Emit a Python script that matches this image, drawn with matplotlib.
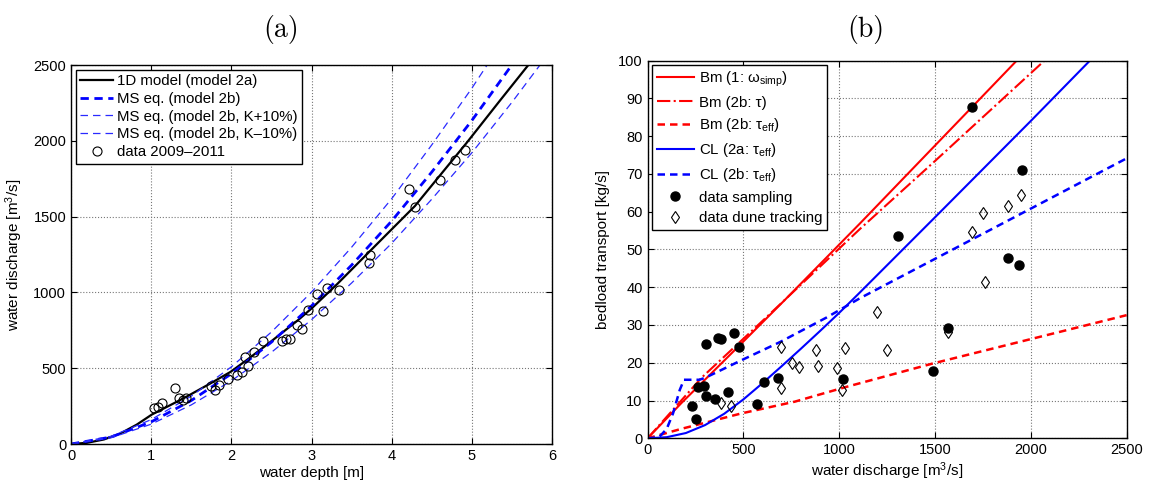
import numpy as np
import matplotlib.pyplot as plt

plt.rcParams['font.family'] = ['Liberation Sans', 'DejaVu Sans']
plt.rcParams['mathtext.fontset'] = 'custom'
plt.rcParams['mathtext.rm'] = 'Liberation Sans'
plt.rcParams['mathtext.it'] = 'Liberation Sans'
plt.rcParams['mathtext.bf'] = 'Liberation Sans:bold'

# ---- panel (a): stage-discharge ----
h_1d = [0, 0.2, 0.41, 0.61, 0.82, 1.01, 1.24, 1.44, 1.74, 1.99, 2.19, 2.48, 2.82, 3.0, 3.32, 3.73, 4.29, 4.94, 5.35, 5.70]
q_1d = [0, 8, 30, 68, 128, 195, 257, 312, 400, 476, 553, 670, 812, 894, 1055, 1273, 1570, 1990, 2265, 2497]

h_ms = [0, 0.5, 1.0, 1.5, 2.0, 2.5, 3.0, 3.5, 4.0, 4.5, 5.0, 5.5]
q_ms = [0, 46, 146, 287, 463, 672, 911, 1180, 1471, 1794, 2134, 2501]

h_msp = [0, 0.5, 1.0, 1.5, 2.0, 2.5, 3.0, 3.5, 4.0, 4.5, 5.0, 5.19]
q_msp = [0, 51, 161, 316, 509, 739, 1002, 1298, 1618, 1973, 2347, 2500]

h_msm = [0, 0.5, 1.0, 1.5, 2.0, 2.5, 3.0, 3.5, 4.0, 4.5, 5.0, 5.5, 5.85]
q_msm = [0, 41, 131, 258, 417, 605, 820, 1062, 1324, 1615, 1921, 2254, 2500]

h_obs = [1.04, 1.09, 1.13, 1.30, 1.35, 1.40, 1.44, 1.74, 1.79, 1.85, 1.96, 2.07, 2.13, 2.17, 2.21,
         2.28, 2.39, 2.63, 2.68, 2.73, 2.82, 2.88, 2.95, 3.07, 3.14, 3.19, 3.34, 3.73, 3.72, 4.22,
         4.29, 4.60, 4.79, 4.91]
q_obs = [235, 246, 268, 371, 301, 290, 301, 384, 356, 389, 426, 455, 476, 575, 514,
         604, 679, 680, 696, 696, 784, 756, 887, 988, 876, 1026, 1014, 1250, 1197, 1684,
         1563, 1744, 1871, 1941]

# ---- panel (b): bedload transport ----
q_bm1 = [0, 176, 476, 716, 1109, 1692, 1927]
s_bm1 = [0, 9.3, 24.4, 36.6, 56.9, 87.6, 100]

q_bm2 = [0, 281, 594, 1106, 1500, 2072]
s_bm2 = [0, 16.0, 30.8, 55.3, 73.4, 100]

q_bm3 = [0, 176, 490, 768, 1029, 1488, 2153, 2500]
s_bm3 = [0, 2.5, 6.6, 9.7, 13.5, 19.8, 28.2, 32.6]

q_cl1 = [0, 100, 200, 300, 400, 500, 600, 700, 800, 900, 1000, 1100, 1500, 2000, 2309]
s_cl1 = [0, 0.3, 1.4, 3.5, 6.5, 10.3, 14.6, 19.1, 23.7, 28.4, 33.2, 38.2, 58.5, 84.0, 100]

q_cl2 = [0, 60, 100, 133, 168, 190, 270, 300, 483, 692, 935, 1109, 2500]
s_cl2 = [0, 0.3, 2.5, 6.6, 12.8, 15.5, 15.5, 16.0, 20.5, 25.5, 32.0, 37.1, 74.1]

q_samp = [304, 368, 385, 450, 476, 264, 295, 304, 234, 251, 354, 420, 606, 573, 681, 1020,
          1488, 1570, 1692, 1953, 1309, 1883, 1941]
s_samp = [25.0, 26.6, 26.2, 28.0, 24.1, 13.5, 13.8, 11.2, 8.5, 5.0, 10.3, 12.3, 14.8, 9.0, 15.9, 15.6,
          17.9, 29.1, 87.6, 71.0, 53.6, 47.6, 45.9]

q_dune = [384, 437, 698, 695, 756, 791, 881, 890, 991, 1029, 1017, 1199, 1248, 1570, 1692,
          1753, 1761, 1880, 1949]
s_dune = [9.3, 8.5, 24.3, 13.4, 20.0, 18.8, 23.4, 19.1, 18.5, 24.0, 12.8, 33.4, 23.4, 28.2, 54.7,
          59.6, 41.3, 61.6, 64.4]

fig = plt.figure(figsize=(11.51, 4.83), dpi=100)
ax1 = fig.add_axes([0.0617, 0.0807, 0.4179, 0.7847])
ax2 = fig.add_axes([0.5626, 0.0925, 0.4162, 0.7822])

ax1.plot(h_1d, q_1d, c='k', ls='-', lw=1.6, label='1D model (model 2a)')
ax1.plot(h_ms, q_ms, c='b', ls='--', lw=2.0, dashes=(3, 2), label='MS eq. (model 2b)')
ax1.plot(h_msp, q_msp, c='#2a2aff', ls='--', lw=0.9, dashes=(6, 4), label='MS eq. (model 2b, K+10%)')
ax1.plot(h_msm, q_msm, c='#2a2aff', ls='--', lw=0.9, dashes=(6, 4), label='MS eq. (model 2b, K\u201310%)')
ax1.plot(h_obs, q_obs, 'o', mfc='none', mec='k', mew=0.8, ms=6.5, label='data 2009\u20132011')
ax1.set_xlim(0, 6)
ax1.set_ylim(0, 2500)
ax1.set_xticks(range(0, 7))
ax1.set_yticks(range(0, 2501, 500))
ax1.set_xlabel('water depth [m]', fontsize=11, labelpad=2)
ax1.set_ylabel('water discharge [m$^3$/s]', fontsize=11, labelpad=6)
ax1.legend(loc='upper left', fontsize=10.8, fancybox=False, edgecolor='k', framealpha=1,
           borderaxespad=0.3, labelspacing=0.25, handlelength=2.2, handletextpad=0.25,
           borderpad=0.3)

ax2.plot(q_bm1, s_bm1, c='r', ls='-', lw=1.5, label='Bm (1: \u03c9$_{\\mathrm{simp}}$)')
ax2.plot(q_bm2, s_bm2, c='r', ls='-.', lw=1.5, label='Bm (2b: \u03c4)')
ax2.plot(q_bm3, s_bm3, c='r', ls='--', lw=1.8, dashes=(3, 2), label='Bm (2b: \u03c4$_{\\mathrm{eff}}$)')
ax2.plot(q_cl1, s_cl1, c='b', ls='-', lw=1.5, label='CL (2a: \u03c4$_{\\mathrm{eff}}$)')
ax2.plot(q_cl2, s_cl2, c='b', ls='--', lw=1.8, dashes=(3, 2), label='CL (2b: \u03c4$_{\\mathrm{eff}}$)')
ax2.plot(q_samp, s_samp, 'o', c='k', ms=6.5, label='data sampling')
ax2.plot(q_dune, s_dune, 'd', mfc='none', mec='k', mew=0.8, ms=6.5, label='data dune tracking')
ax2.set_xlim(0, 2500)
ax2.set_ylim(0, 100)
ax2.set_xticks(range(0, 2501, 500))
ax2.set_yticks(range(0, 101, 10))
ax2.set_xlabel('water discharge [m$^3$/s]', fontsize=11, labelpad=2)
ax2.set_ylabel('bedload transport [kg/s]', fontsize=11, labelpad=6)
ax2.legend(loc='upper left', fontsize=10.8, fancybox=False, edgecolor='k', framealpha=1,
           borderaxespad=0.3, labelspacing=0.45, handlelength=2.5, handletextpad=0.3,
           borderpad=0.3)

for ax in (ax1, ax2):
    ax.grid(True, ls=':', color='#777777', lw=0.8)
    ax.tick_params(direction='in', top=True, right=True, labelsize=10.5, length=4, width=0.8)
    for sp in ax.spines.values():
        sp.set_linewidth(1.0)

fig.text(281 / 1151, 1 - 29 / 483, '(a)', family='cmr10', fontsize=20, ha='center', va='center')
fig.text(866 / 1151, 1 - 29 / 483, '(b)', family='cmr10', fontsize=20, ha='center', va='center')

plt.savefig('out.png', dpi=100)
